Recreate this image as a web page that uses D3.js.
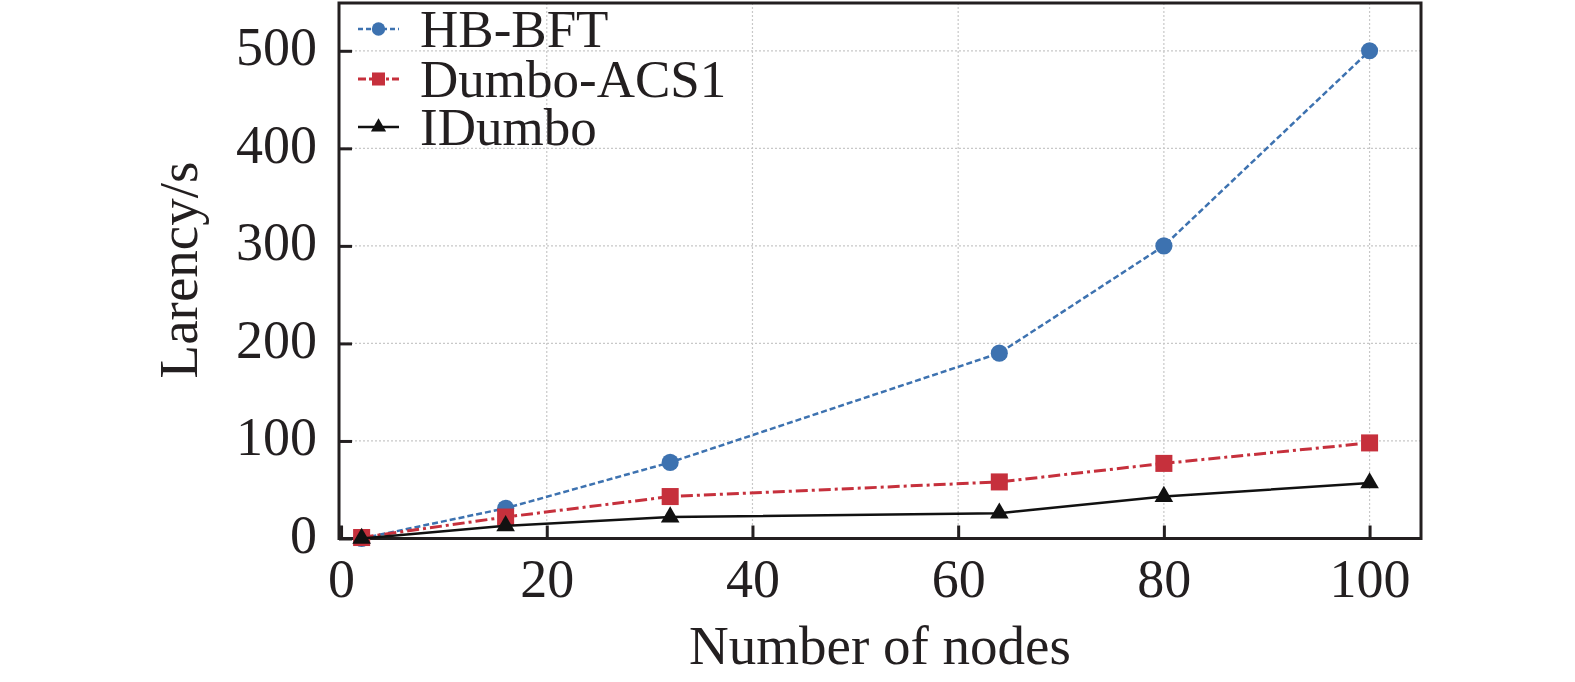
<!DOCTYPE html>
<html>
<head>
<meta charset="utf-8">
<script src="https://cdn.jsdelivr.net/npm/d3@7"></script>
<style>
html,body{margin:0;padding:0;background:#fff;}
svg{display:block;}
text{font-family:"Liberation Serif","Times New Roman",serif;fill:#231f20;}
</style>
</head>
<body>
<svg id="chart" width="1575" height="682"></svg>
<script>
const nodes = [2, 16, 32, 64, 80, 100];
const hbbft = [0, 31, 78, 190, 300, 500];
const dumbo = [1, 22, 43, 58, 77, 98];
const idumbo = [0, 13, 22, 26, 43, 57];
const seriesNames = ["HB-BFT", "Dumbo-ACS1", "IDumbo"];
const xTicks = [0, 20, 40, 60, 80, 100];
const yTicks = [0, 100, 200, 300, 400, 500];
const xDomain = [-0.2, 105];
const yDomain = [0, 549];

const svg = d3.select("#chart");
const L = 339, R = 1421, T = 3, B = 538.5;
const x = d3.scaleLinear().domain(xDomain).range([L, R]);
const y = d3.scaleLinear().domain(yDomain).range([B, T]);

// grid
const g = svg.append("g");
g.selectAll("line.gx").data(xTicks.filter(d => d > 0)).join("line")
  .attr("x1", d => x(d)).attr("x2", d => x(d)).attr("y1", T).attr("y2", B)
  .attr("stroke", "#c8c8c8").attr("stroke-width", 1.2).attr("stroke-dasharray", "2,2");
g.selectAll("line.gy").data(yTicks.filter(d => d > 0)).join("line")
  .attr("x1", L).attr("x2", R).attr("y1", d => y(d)).attr("y2", d => y(d))
  .attr("stroke", "#c8c8c8").attr("stroke-width", 1.2).attr("stroke-dasharray", "2,2");

// axes
const xAxis = d3.axisBottom(x).tickValues(xTicks).tickSizeInner(-13).tickSizeOuter(0).tickPadding(0);
const yAxis = d3.axisLeft(y).tickValues(yTicks).tickSizeInner(-13).tickSizeOuter(0).tickPadding(0);
const gx = svg.append("g").attr("transform", `translate(0,${B})`).call(xAxis);
const gy = svg.append("g").attr("transform", `translate(${L},0)`).call(yAxis);
[gx, gy].forEach(a => {
  a.select(".domain").remove();
  a.selectAll(".tick line").attr("stroke", "#231f20").attr("stroke-width", 3);
  a.selectAll(".tick text").style("font-family", '"Liberation Serif","Times New Roman",serif')
    .style("font-size", "54px").attr("fill", "#231f20");
});
gx.selectAll(".tick text").attr("dy", null).attr("y", 58);
gy.selectAll(".tick text").attr("dy", null).attr("x", -22).attr("y", 14);

// frame
svg.append("rect").attr("x", L).attr("y", T).attr("width", R - L).attr("height", B - T)
  .attr("fill", "none").attr("stroke", "#231f20").attr("stroke-width", 3);

// series
const series = [
  {name: seriesNames[0], vals: hbbft, color: "#3d72b0", dash: "6,3", width: 2.5, sym: d3.symbolCircle, size: 230, lsize: 140},
  {name: seriesNames[1], vals: dumbo, color: "#c6303c", dash: "12,4,3,4", width: 3, sym: d3.symbolSquare, size: 290, lsize: 170},
  {name: seriesNames[2], vals: idumbo, color: "#111111", dash: null, width: 2.5, sym: d3.symbolTriangle, size: 150, lsize: 100}
];
const line = d3.line().x((d, i) => x(nodes[i])).y(d => y(d));
series.forEach(s => {
  svg.append("path").datum(s.vals).attr("d", line)
    .attr("fill", "none").attr("stroke", s.color).attr("stroke-width", s.width)
    .attr("stroke-dasharray", s.dash);
  svg.selectAll(null).data(s.vals).join("path")
    .attr("d", d3.symbol().type(s.sym).size(s.size))
    .attr("transform", (d, i) => `translate(${x(nodes[i])},${y(d)})`)
    .attr("fill", s.color);
});

// legend
const lg = svg.append("g");
const rowY = [29, 79, 127];
series.forEach((s, i) => {
  lg.append("line").attr("x1", 358).attr("x2", 399).attr("y1", rowY[i]).attr("y2", rowY[i])
    .attr("stroke", s.color).attr("stroke-width", s.width).attr("stroke-dasharray", s.dash ? (i === 0 ? "5,3" : "8,3,3,3") : null);
  lg.append("path").attr("d", d3.symbol().type(s.sym).size(s.lsize)())
    .attr("transform", `translate(378.5,${rowY[i]})`).attr("fill", s.color);
  lg.append("text").attr("x", 420).attr("y", rowY[i] + 18).style("font-size", "53px").text(s.name);
});

// axis titles
svg.append("text").attr("x", 880).attr("y", 664).attr("text-anchor", "middle")
  .style("font-size", "55px").text("Number of nodes");
svg.append("text").attr("transform", "translate(197,270) rotate(-90)").attr("text-anchor", "middle")
  .style("font-size", "55px").text("Larency/s");
</script>
</body>
</html>
